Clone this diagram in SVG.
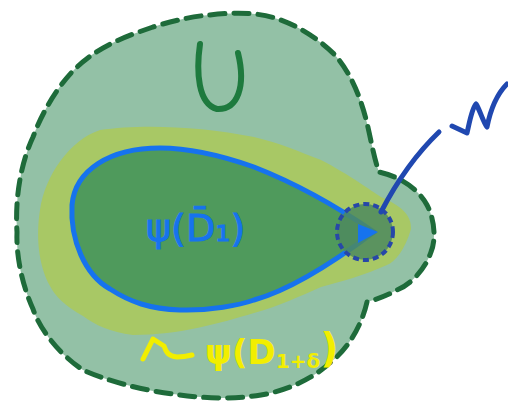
<svg xmlns="http://www.w3.org/2000/svg" width="508" height="404" viewBox="0 0 508 404">
<style>
.outer{fill:#93c1a6;stroke:#1e6b3a;stroke-width:5;stroke-dasharray:15 9;stroke-linecap:round;stroke-linejoin:round}
.band{fill:#a8c865}
.drop{fill:#4f9a5c;stroke:#1673ee;stroke-width:5;stroke-linejoin:round}
.pt{fill:#4e8a5e;fill-opacity:0.85;stroke:#2747a8;stroke-width:4;stroke-dasharray:6 4}
.ink{fill:none;stroke-linecap:round;stroke-linejoin:round}
.lbl{font-family:"DejaVu Sans",sans-serif}
</style>
<g id="U">
<path class="outer" d="M 210,15 C 235,12 260,12 281,20 C 300,27 320,40 335,55 C 350,72 360,95 367,123 C 371,140 374,158 379,172 C 398,176 418,188 427,205 C 435,220 436,240 431,252 C 425,270 410,285 397,290 C 388,295 378,299 367,302 C 363,320 352,345 331,362 C 315,377 290,390 261,395 C 230,400 200,398 173,394 C 140,390 105,380 83,370 C 60,355 40,330 33,309 C 22,285 16,255 17,232 C 15,200 20,165 33,137 C 45,105 63,80 77,67 C 100,45 130,35 153,27 C 175,20 195,16 210,15 Z"/>
<path class="ink" d="M 200,44 C 196,72 198,104 217,109 C 238,110 246,86 238,53" stroke="#1e7a3e" stroke-width="6"/>
</g>
<g id="band">
<path class="band" d="M 411,229 C 405,250 395,262 387,265 C 365,275 340,282 321,287 C 300,296 280,306 254,313 C 220,323 180,335 133,335 C 110,332 95,325 83,316 C 65,306 55,296 50,286 C 38,265 36,235 40,210 C 45,175 70,140 100,130 C 140,124 200,126 254,137 C 280,143 300,152 321,160 C 350,175 370,190 381,197 C 400,205 412,215 411,229 Z"/>
</g>
<g id="drop">
<path class="drop" d="M 374,232 C 345,212 300,185 254,167 C 220,155 190,148 160,148 C 110,148 75,170 72,205 C 70,240 85,275 110,289 C 130,302 150,309 180,310 C 210,311 240,305 254,300 C 290,290 330,265 374,232 Z"/>
<text class="lbl" x="146" y="241" font-size="38" fill="#1673ee" stroke="#1673ee" stroke-width="1">ψ(D̄₁)</text>
</g>
<g id="point">
<circle class="pt" cx="365" cy="232" r="28"/>
<path d="M 358,224 L 378,232 L 358,243 Z" fill="#1673ee"/>
</g>
<g id="connectors">
<path class="ink" d="M 381,212 C 395,185 415,155 439,132" stroke="#2048b0" stroke-width="5"/>
<path class="ink" d="M 452,126 L 467,133 C 470,120 472,108 476,104 C 480,110 483,122 487,127 C 490,112 496,95 507,84" stroke="#2048b0" stroke-width="5"/>
</g>
<g id="yellow-label" fill="#f2ee00">
<path class="ink" d="M 143,359 L 153,339 L 164,346 C 166,352 168,356 177,357 C 183,357 188,356 192,355" stroke="#f2ee00" stroke-width="5"/>
<text class="lbl" x="205" y="364" font-size="34" font-weight="bold">ψ(D<tspan font-size="20" dy="4">1+δ</tspan><tspan dy="-6" font-size="40">)</tspan></text>
</g>
</svg>
